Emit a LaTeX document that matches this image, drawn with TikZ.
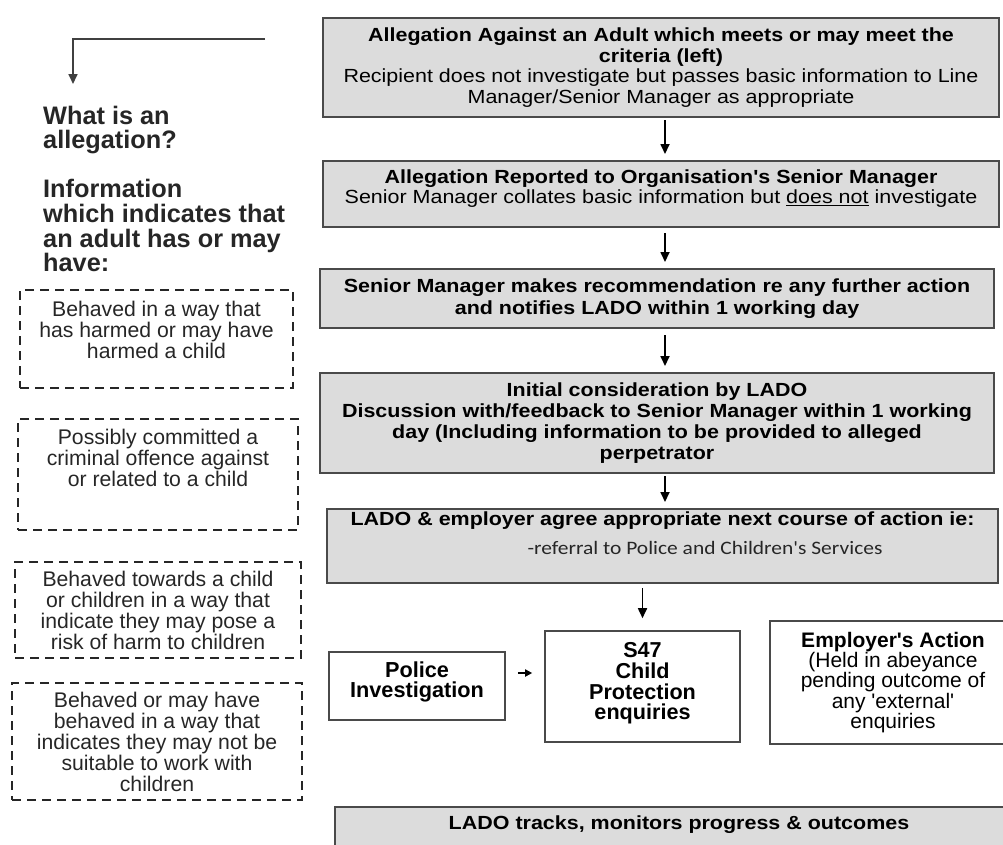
\documentclass[tikz,border=0pt]{standalone}
\usepackage{fontspec}
\setmainfont{Liberation Sans}
\newfontfamily\plainsans{Liberation Sans}
\newfontfamily\widesans[FakeStretch=1.13]{Liberation Sans}
\newfontfamily\carlito[FakeStretch=1.13]{Carlito}
\usetikzlibrary{arrows.meta}
\definecolor{boxgray}{HTML}{DCDCDC}
\definecolor{edgegray}{HTML}{4A4A4A}
\definecolor{inkgray}{HTML}{262626}
\begin{document}
\begin{tikzpicture}[x=1pt,y=-1pt,
 mainbox/.style={draw=edgegray, line width=2pt, fill=boxgray, inner sep=0pt, align=center, font=\widesans\fontsize{19}{20.5}\selectfont},
 wbox/.style={draw=edgegray, line width=1.6pt, fill=white, inner sep=0pt, align=center},
 dbox/.style={draw=black!85, line width=2pt, dash pattern=on 9pt off 6pt, inner sep=0pt, align=center, text=inkgray, font=\plainsans\fontsize{21.2}{21}\selectfont},
 arr/.style={draw=black, line width=1.7pt, -{Triangle[length=10pt,width=9pt]}},
]
\clip (0,0) rectangle (1003,844);
\useasboundingbox (0,0) rectangle (1003,844);

% left column
\coordinate (tl) at (265,39);
\coordinate (tlc) at (73,39);
\coordinate (tld) at (73,84);
\draw[arr, draw=black!75] (tl) -- (tlc) -- (tld);

\node[anchor=north west, align=left, inner sep=0pt, text=inkgray, font=\plainsans\fontsize{25.3}{24.6}\selectfont\bfseries] (what) at (43,105.5)
 {What is an\\allegation?\\[24.6pt]Information\\which indicates that\\an adult has or may\\have:};

\node[dbox, minimum width=273pt, minimum height=98pt] (d1) at (156.5,339)
 {Behaved in a way that\\has harmed or may have\\harmed a child\\[-3pt]\mbox{}};
\node[dbox, minimum width=280pt, minimum height=111pt] (d2) at (158,474.5)
 {Possibly committed a\\criminal offence against\\or related to a child\\[12pt]\mbox{}};
\node[dbox, minimum width=286pt, minimum height=96pt] (d3) at (158,610)
 {Behaved towards a child\\or children in a way that\\indicate they may pose a\\risk of harm to children};
\node[dbox, minimum width=290pt, minimum height=117pt] (d4) at (157,741.5)
 {Behaved or may have\\behaved in a way that\\indicates they may not be\\suitable to work with\\children};

% right column
\node[mainbox, minimum width=676pt, minimum height=99pt] (b1) at (661,67.5)
 {\textbf{Allegation Against an Adult which meets or may meet the}\\\textbf{criteria (left)}\\Recipient does not investigate but passes basic information to Line\\Manager/Senior Manager as appropriate};
\node[mainbox, minimum width=676pt, minimum height=66pt] (b2) at (661,194)
 {\textbf{Allegation Reported to Organisation's Senior Manager}\\Senior Manager collates basic information but \underline{does not} investigate\\[-6pt]\mbox{}};
\node[mainbox, minimum width=674pt, minimum height=59pt, font=\widesans\fontsize{19}{22}\selectfont\bfseries] (b3) at (657,298.5)
 {Senior Manager makes recommendation re any further action\\and notifies LADO within 1 working day};
\node[mainbox, minimum width=674pt, minimum height=100pt, font=\widesans\fontsize{19}{21}\selectfont\bfseries] (b4) at (657,423)
 {Initial consideration by LADO\\Discussion with/feedback to Senior Manager within 1 working\\day (Including information to be provided to alleged\\perpetrator};
\node[mainbox, minimum width=671pt, minimum height=74pt] (b5) at (662.5,546) {};
\node[font=\widesans\fontsize{19}{21}\selectfont\bfseries, inner sep=0pt] (b5a) at (662.5,521)
 {LADO \& employer agree appropriate next course of action ie:};
\node[font=\carlito\fontsize{19}{20}\selectfont, text=inkgray, inner sep=0pt] (b5b) at (705,548)
 {-referral to Police and Children's Services};

\node[wbox, font=\plainsans\fontsize{21.7}{20.5}\selectfont\bfseries, minimum width=176pt, minimum height=68pt] (police) at (417,686)
 {Police\\Investigation\\[-8pt]\mbox{}};
\node[wbox, font=\plainsans\fontsize{21.6}{20.7}\selectfont\bfseries, minimum width=195pt, minimum height=111pt] (s47) at (642.5,686.5)
 {S47\\Child\\Protection\\enquiries\\[-10pt]\mbox{}};
\node[wbox, font=\plainsans\fontsize{21}{20.3}\selectfont, minimum width=246pt, minimum height=123pt] (emp) at (893,682.5)
 {\textbf{Employer's Action}\\(Held in abeyance\\pending outcome of\\any 'external'\\enquiries};

\node[mainbox, minimum width=688pt, minimum height=40pt] (b6) at (679,827) {};
\node[font=\widesans\fontsize{19}{21}\selectfont\bfseries, inner sep=0pt] (b6t) at (679,825)
 {LADO tracks, monitors progress \& outcomes};

% connectors
\draw[arr, shorten <=2pt, shorten >=6pt] ([xshift=4pt]b1.south) -- ([xshift=4pt]b1.south |- b2.north);
\draw[arr, shorten <=5pt, shorten >=6pt] ([xshift=4pt]b1.south |- b2.south) -- ([xshift=4pt]b1.south |- b3.north);
\draw[arr, shorten <=6pt, shorten >=6pt] ([xshift=4pt]b1.south |- b3.south) -- ([xshift=4pt]b1.south |- b4.north);
\draw[arr, shorten <=2pt, shorten >=6pt] ([xshift=4pt]b1.south |- b4.south) -- ([xshift=4pt]b1.south |- b5.north);
\draw[arr, shorten <=4pt, shorten >=12pt] (s47.north |- b5.south) -- (s47.north);
\draw[arr, shorten <=12pt, shorten >=12pt, -{Triangle[length=7pt,width=7pt]}] (police.east |- 0,673) -- (s47.west |- 0,673);
\end{tikzpicture}
\end{document}
